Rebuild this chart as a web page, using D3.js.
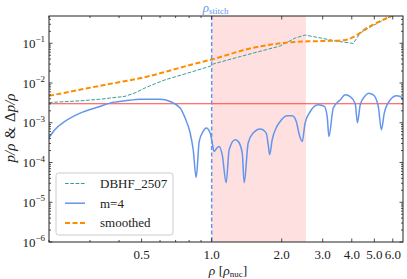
<!DOCTYPE html>
<html>
<head>
<meta charset="utf-8">
<script src="https://cdn.jsdelivr.net/npm/d3@7"></script>
<style>
  body { margin: 0; background: white; }
  text { font-family: "Liberation Serif", "DejaVu Serif", serif; fill: #222; }
</style>
</head>
<body>
<div id="chart"></div>
<script>
// density in units of rho_nuc
const dbhfRho = [0.2, 0.272, 0.331, 0.425, 0.469, 0.518, 0.569, 0.63, 0.808, 0.995, 1.015, 1.326, 1.97, 2.29, 2.52, 2.93, 3.40, 3.94, 4.06, 4.35, 4.81, 5.30, 5.86, 6.64];
const dbhfVal = [0.00323, 0.00356, 0.0039, 0.00463, 0.00566, 0.00755, 0.0095, 0.012, 0.0185, 0.0269, 0.030, 0.0462, 0.0855, 0.136, 0.161, 0.136, 0.114, 0.1016, 0.099, 0.181, 0.256, 0.348, 0.47, 0.70];

const smoothRho = [0.2, 0.331, 0.544, 0.808, 1.0, 1.464, 1.97, 2.29, 2.65, 3.23, 3.75, 4.14, 4.57, 5.2, 5.86, 6.64];
const smoothVal = [0.00476, 0.0085, 0.0151, 0.0285, 0.039, 0.074, 0.0998, 0.108, 0.112, 0.115, 0.121, 0.152, 0.228, 0.342, 0.47, 0.66];

const m4Rho = [0.2, 0.212, 0.234, 0.272, 0.331, 0.366, 0.425, 0.493, 0.60, 0.663, 0.732, 0.769, 0.808, 0.833, 0.858,
  0.884, 0.919, 0.947, 0.985, 1.005, 1.025, 1.056, 1.077, 1.11, 1.154, 1.189, 1.262, 1.30, 1.353, 1.38,
  1.435, 1.508, 1.617, 1.716, 1.75, 1.775, 1.82, 1.894, 1.97, 2.11, 2.22, 2.31, 2.38, 2.45, 2.52,
  2.653, 2.87, 3.05, 3.14, 3.19, 3.33, 3.571, 3.75, 3.94, 4.14, 4.23, 4.35, 4.57, 4.71, 4.95,
  5.2, 5.36, 5.52, 5.86, 6.22, 6.47, 6.64];
const m4Val = [4.2e-4, 6.7e-4, 1.08e-3, 1.75e-3, 2.57e-3, 3.12e-3, 3.56e-3, 3.93e-3, 3.9e-3, 3.42e-3, 2.34e-3, 1.31e-3, 5.6e-4, 2.1e-4, 4.2e-5,
  3.4e-4, 6.05e-4, 7.36e-4, 5.6e-4, 3.15e-4, 1.9e-4, 2.36e-4, 2.54e-4, 1.57e-4, 3.1e-5, 2.1e-4, 3.74e-4, 3.4e-4, 1.74e-4, 3.1e-5,
  3.1e-4, 5.5e-4, 6.95e-4, 5.5e-4, 2.8e-4, 1.57e-4, 3.74e-4, 7.5e-4, 1.08e-3, 1.5e-3, 1.5e-3, 1.08e-3, 5e-4, 3.4e-4, 9.8e-4,
  1.92e-3, 2.83e-3, 2.57e-3, 1.33e-3, 4.5e-4, 2.34e-3, 3.78e-3, 5.05e-3, 4.57e-3, 3.0e-3, 1.0e-3, 2.83e-3, 4.76e-3, 5.56e-3, 5.05e-3,
  2.57e-3, 6.7e-4, 1.78e-3, 3.78e-3, 4.76e-3, 4.57e-3, 3.78e-3];

const tolerance = 0.003;
const rhoStitch = 1.0;
const bandRange = [1.0, 2.54];

const xTicks = [0.5, 1.0, 2.0, 3.0, 4.0, 5.0, 6.0];
const xMinor = [0.2, 0.3, 0.4, 0.6, 0.7, 0.8, 0.9];
const yTicks = [-6, -5, -4, -3, -2, -1];

const legendNames = ['DBHF_2507', 'm=4', 'smoothed'];

const width = 407, height = 279;
const margin = {top: 16, right: 4, bottom: 37, left: 49};
const innerW = width - margin.left - margin.right;
const innerH = height - margin.top - margin.bottom;

const colTeal = '#3a9b9b', colBlue = '#6495ed', colOrange = '#ff8c00', colRed = '#ff4545';

const svg = d3.select('#chart').append('svg')
  .attr('width', width)
  .attr('height', height);

const x = d3.scaleLog().domain([0.2, 6.64]).range([0, innerW]);
const y = d3.scaleLog().domain([1e-6, 0.485]).range([innerH, 0]);

const g = svg.append('g').attr('transform', `translate(${margin.left},${margin.top})`);

g.append('clipPath').attr('id', 'clip')
  .append('rect').attr('width', innerW).attr('height', innerH);

const plot = g.append('g').attr('clip-path', 'url(#clip)');

// shaded band
plot.append('rect')
  .attr('x', x(bandRange[0]))
  .attr('y', 0)
  .attr('width', x(bandRange[1]) - x(bandRange[0]))
  .attr('height', innerH)
  .style('fill', 'rgba(255,0,0,0.12)');

// tolerance line
plot.append('line')
  .attr('x1', 0).attr('x2', innerW)
  .attr('y1', y(tolerance)).attr('y2', y(tolerance))
  .attr('stroke', colRed).attr('stroke-width', 1.1);

const zip = (a, b) => a.map((v, i) => [v, b[i]]);

plot.append('path')
  .datum(zip(dbhfRho, dbhfVal))
  .attr('d', d3.line().x(d => x(d[0])).y(d => y(d[1])))
  .attr('fill', 'none')
  .attr('stroke', colTeal)
  .attr('stroke-width', 1)
  .attr('stroke-dasharray', '3.7,1.6');

plot.append('path')
  .datum(zip(m4Rho, m4Val))
  .attr('d', d3.line().x(d => x(d[0])).y(d => y(d[1])).curve(d3.curveMonotoneX))
  .attr('fill', 'none')
  .attr('stroke', colBlue)
  .attr('stroke-width', 1.5);

plot.append('path')
  .datum(zip(smoothRho, smoothVal))
  .attr('d', d3.line().x(d => x(d[0])).y(d => y(d[1])).curve(d3.curveMonotoneX))
  .attr('fill', 'none')
  .attr('stroke', colOrange)
  .attr('stroke-width', 2)
  .attr('stroke-dasharray', '5,2.5');

// stitch line
plot.append('line')
  .attr('x1', x(rhoStitch)).attr('x2', x(rhoStitch))
  .attr('y1', 0).attr('y2', innerH)
  .attr('stroke', colBlue)
  .attr('stroke-width', 1.5)
  .attr('stroke-dasharray', '4,2.5');

// ticks (inward, on all four sides)
const tickG = g.append('g');
function xTick(v, len) {
  tickG.append('line').attr('x1', x(v)).attr('x2', x(v)).attr('y1', innerH).attr('y2', innerH - len).attr('stroke', '#222').attr('stroke-width', 0.8);
  tickG.append('line').attr('x1', x(v)).attr('x2', x(v)).attr('y1', 0).attr('y2', len).attr('stroke', '#222').attr('stroke-width', 0.8);
}
xTicks.forEach(v => xTick(v, 3.5));
xMinor.forEach(v => xTick(v, 2));

function yTick(v, len) {
  tickG.append('line').attr('x1', 0).attr('x2', len).attr('y1', y(v)).attr('y2', y(v)).attr('stroke', '#222').attr('stroke-width', 0.8);
  tickG.append('line').attr('x1', innerW).attr('x2', innerW - len).attr('y1', y(v)).attr('y2', y(v)).attr('stroke', '#222').attr('stroke-width', 0.8);
}
yTicks.forEach(e => {
  yTick(Math.pow(10, e), 3.5);
  for (let k = 2; k <= 9; k++) {
    const v = k * Math.pow(10, e);
    if (v < y.domain()[1]) yTick(v, 2);
  }
});

// frame
g.append('rect')
  .attr('width', innerW).attr('height', innerH)
  .attr('fill', 'none').attr('stroke', '#222').attr('stroke-width', 1);

// tick labels
g.selectAll('.xlab')
  .data(xTicks)
  .join('text')
  .attr('class', 'xlab')
  .attr('x', d => x(d))
  .attr('y', innerH + 17)
  .attr('text-anchor', 'middle')
  .style('font-size', '13px')
  .text(d => d.toFixed(1));

const yl = g.selectAll('.ylab')
  .data(yTicks)
  .join('text')
  .attr('class', 'ylab')
  .attr('x', -4)
  .attr('y', d => y(Math.pow(10, d)) + 4.5)
  .attr('text-anchor', 'end')
  .style('font-size', '13px');
yl.append('tspan').text('10');
yl.append('tspan').attr('dy', -5.5).style('font-size', '9px').text(d => '\u2212' + (-d));

// stitch label
const st = g.append('text')
  .attr('x', x(rhoStitch) - 9)
  .attr('y', -4)
  .style('fill', colBlue)
  .style('font-size', '13px');
st.append('tspan').style('font-style', 'italic').style('fill', colBlue).text('\u03c1');
st.append('tspan').attr('dy', 2).style('font-size', '9px').style('fill', colBlue).text('stitch');

// axis labels
const xl = g.append('text')
  .attr('x', innerW / 2 + 2)
  .attr('y', innerH + 33)
  .attr('text-anchor', 'middle')
  .style('font-size', '13.5px');
xl.append('tspan').style('font-style', 'italic').text('\u03c1');
xl.append('tspan').text(' [');
xl.append('tspan').style('font-style', 'italic').text('\u03c1');
xl.append('tspan').attr('dy', 2).style('font-size', '9px').text('nuc');
xl.append('tspan').attr('dy', -2).text(']');

const ylab = g.append('text')
  .attr('transform', `translate(${-34},${innerH / 2 - 1}) rotate(-90)`)
  .attr('text-anchor', 'middle')
  .style('font-size', '15px');
ylab.append('tspan').style('font-style', 'italic').text('p/\u03c1');
ylab.append('tspan').attr('dx', 5).text('&');
ylab.append('tspan').attr('dx', 5).text('\u0394');
ylab.append('tspan').style('font-style', 'italic').text('p/\u03c1');

// legend
const legend = g.append('g').attr('transform', `translate(${56 - margin.left},${173 - margin.top})`);
legend.append('rect')
  .attr('width', 117).attr('height', 62)
  .attr('rx', 2.5)
  .attr('fill', 'rgba(255,255,255,0.85)')
  .attr('stroke', '#cccccc')
  .attr('stroke-width', 1);

const legendStyles = [
  {color: colTeal, w: 1, dash: '3.7,1.6'},
  {color: colBlue, w: 1.5, dash: null},
  {color: colOrange, w: 2, dash: '5,2.5'}
];

const rows = legend.selectAll('.row')
  .data(legendNames)
  .join('g')
  .attr('class', 'row')
  .attr('transform', (d, i) => `translate(0,${10.5 + i * 19.7})`);

rows.append('line')
  .attr('x1', 9).attr('x2', 29)
  .attr('stroke', (d, i) => legendStyles[i].color)
  .attr('stroke-width', (d, i) => legendStyles[i].w)
  .attr('stroke-dasharray', (d, i) => legendStyles[i].dash);

rows.append('text')
  .attr('x', 44)
  .attr('y', 4.5)
  .style('font-size', '13px')
  .text(d => d);
</script>
</body>
</html>
